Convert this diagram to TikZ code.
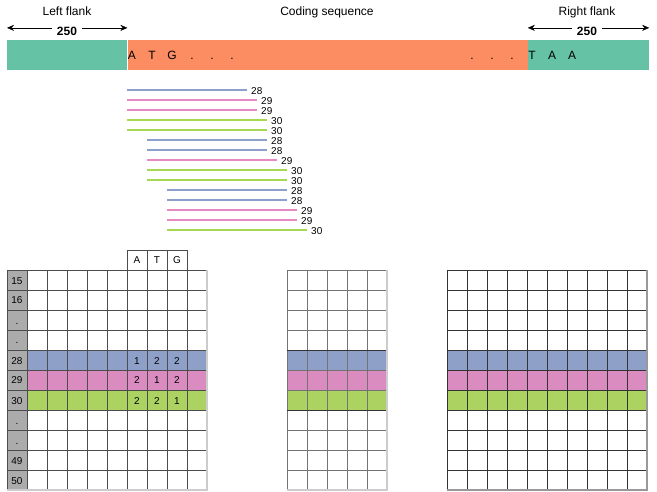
\documentclass[tikz,border=0pt]{standalone}
\usepackage{fontspec}
\setmainfont{Liberation Sans}
\usetikzlibrary{positioning,arrows.meta}
\definecolor{flankgreen}{HTML}{66C2A5}
\definecolor{codingorange}{HTML}{FC8D62}
\definecolor{readblue}{HTML}{8DA0CB}
\definecolor{readpink}{HTML}{E78AC3}
\definecolor{readgreen}{HTML}{A6D854}
\definecolor{rowblue}{HTML}{8FA0C8}
\definecolor{rowpink}{HTML}{DA8CC0}
\definecolor{rowgreen}{HTML}{ACD262}
\definecolor{labelgray}{HTML}{ABABAB}
\begin{document}
\begin{tikzpicture}[x=1pt,y=-1pt,
	bar/.style={inner sep=0pt, minimum height=30pt, anchor=west},
	base/.style={inner sep=0pt, anchor=base, font=\fontsize{12}{14}\selectfont},
	readnum/.style={inner sep=0pt, font=\fontsize{10}{12}\selectfont},
	cellnum/.style={inner sep=0pt, anchor=base, font=\fontsize{10}{12}\selectfont},
	rule/.style={line width=0.8pt, draw=black!70},
	edge/.style={line width=1.5pt, draw=black!20}]
	\useasboundingbox (0,0) rectangle (657,492);
	% sequence with its flanks
	\node[bar, fill=flankgreen, minimum width=120pt] (lflank) at (7,55) {};
	\node[bar, fill=codingorange, minimum width=400pt, right=0pt of lflank] (cds) {};
	\node[bar, fill=flankgreen, minimum width=121pt, right=0pt of cds] (rflank) {};
	\node[base] (ltitle) at (67,15.5) {Left flank};
	\node[base] (ctitle) at (327,15.5) {Coding sequence};
	\node[base] (rtitle) at (587,15.5) {Right flank};
	\node[base] (lwidth) at (67,36) {\bfseries 250};
	\node[base] (rwidth) at (587,36) {\bfseries 250};
	\draw[-{Stealth[length=7pt,width=6pt]}] ([xshift=-5pt,yshift=4pt]lwidth.west) -- ([yshift=4pt]lflank.north west |- lwidth.west);
	\draw[-{Stealth[length=7pt,width=6pt]}] ([xshift=5pt,yshift=4pt]lwidth.east) -- ([yshift=4pt]lflank.north east |- lwidth.east);
	\draw[-{Stealth[length=7pt,width=6pt]}] ([xshift=-5pt,yshift=4pt]rwidth.west) -- ([yshift=4pt]rflank.north west |- rwidth.west);
	\draw[-{Stealth[length=7pt,width=6pt]}] ([xshift=5pt,yshift=4pt]rwidth.east) -- ([yshift=4pt]rflank.north east |- rwidth.east);
	\foreach \b [count=\i] in {A,T,G,.,.,.} \node[base] (s\i) at ({112+20*\i},60) {\b};
	\foreach \b [count=\i] in {.,.,.,T,A,A} \node[base] (e\i) at ({452+20*\i},60) {\b};
	% reads
	\foreach \s/\e/\c/\n [count=\i] in {127/247/readblue/28, 127/257/readpink/29, 127/257/readpink/29, 127/267/readgreen/30, 127/267/readgreen/30, 147/267/readblue/28, 147/267/readblue/28, 147/277/readpink/29, 147/287/readgreen/30, 147/287/readgreen/30, 167/287/readblue/28, 167/287/readblue/28, 167/297/readpink/29, 167/297/readpink/29, 167/307/readgreen/30} {
		\coordinate (ra\i) at (\s,{80+10*\i});
		\coordinate (rb\i) at (\e,{80+10*\i});
		\draw[\c, line width=2pt] (ra\i) -- (rb\i);
		\node[readnum, right=4pt of rb\i, yshift=-1.5pt] (rn\i) {\n};
	}
	% left table
	\fill[labelgray] (7,270) rectangle (27,490);
	\foreach \c/\y in {rowblue/350, rowpink/370, rowgreen/390} \fill[\c] (27,\y) rectangle (207,{\y+20});
	\foreach \x in {7,27,...,187} \draw[rule] (\x,270) -- (\x,490);
	\foreach \y in {270,290,...,470} \draw[rule] (7,\y) -- (207,\y);
	\draw[edge] (207,270) -- (207,490) -- (7,490);
	\draw[rule] (127,250) rectangle (187,270);
	\foreach \x in {147,167} \draw[rule] (\x,250) -- (\x,270);
	\foreach \b [count=\i] in {A,T,G} \node[cellnum] (h\i) at ({117+20*\i},264) {\b};
	\foreach \l [count=\i] in {15,16,.,.,28,29,30,.,.,49,50} \node[cellnum] (rowl\i) at (17,{264+20*\i}) {\l};
	\foreach \a/\b/\c [count=\i] in {1/2/2, 2/1/2, 2/2/1} {
		\node[cellnum] (va\i) at (137,{344+20*\i}) {\a};
		\node[cellnum] (vb\i) at (157,{344+20*\i}) {\b};
		\node[cellnum] (vc\i) at (177,{344+20*\i}) {\c};
	}
	% middle table
	\foreach \c/\y in {rowblue/350, rowpink/370, rowgreen/390} \fill[\c] (287,\y) rectangle (387,{\y+20});
	\foreach \x in {287,307,...,367} \draw[rule, draw=black!55] (\x,270) -- (\x,490);
	\foreach \y in {270,290,...,470} \draw[rule, draw=black!55] (287,\y) -- (387,\y);
	\draw[rule, draw=black!80] (287,350) -- (387,350) (287,410) -- (387,410);
	\draw[edge] (387,270) -- (387,490) -- (287,490);
	% right table
	\foreach \c/\y in {rowblue/350, rowpink/370, rowgreen/390} \fill[\c] (447,\y) rectangle (647,{\y+20});
	\foreach \x in {447,467,...,627} \draw[rule, draw=black!80] (\x,270) -- (\x,490);
	\foreach \y in {270,290,...,470} \draw[rule, draw=black!80] (447,\y) -- (647,\y);
	\draw[edge, draw=black!40] (647,270) -- (647,490) -- (447,490);
\end{tikzpicture}
\end{document}
